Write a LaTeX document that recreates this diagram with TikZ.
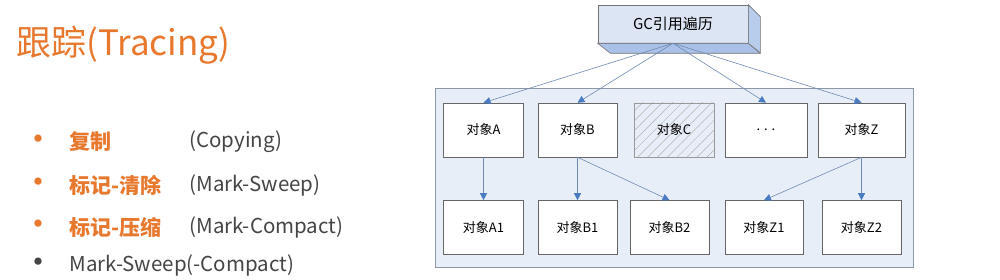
\documentclass[tikz,border=0pt]{standalone}
\usepackage{fontspec}
\setmainfont{Noto Sans CJK SC}
\usetikzlibrary{arrows.meta,patterns.meta,positioning}
\definecolor{traceorange}{HTML}{E8782E}
\definecolor{textgray}{HTML}{454545}
\definecolor{heapfill}{HTML}{E8EEF7}
\definecolor{heapline}{HTML}{8C98A6}
\definecolor{gcfront}{HTML}{DCE5F4}
\definecolor{gcside}{HTML}{A9C1E8}
\definecolor{refblue}{HTML}{4A7CC4}
\tikzset{
  objbox/.style={draw=black!60,fill=white,line width=0.6pt,minimum width=80pt,
    minimum height=54pt,inner sep=0pt,font=\fontsize{13}{15}\selectfont},
  refarrow/.style={draw=refblue!60!gray!90,line width=0.6pt,
    -{Triangle[width=7pt,length=7pt,color=refblue]}},
  bul/.style={anchor=west,font=\fontsize{26}{28}\selectfont\bfseries},
  cjkterm/.style={anchor=west,text=traceorange,font=\fontsize{21}{24}\selectfont\bfseries},
  engterm/.style={anchor=west,text=textgray,font=\fontsize{20.5}{24}\selectfont}
}

\begin{document}
\begin{tikzpicture}[x=1pt,y=-1pt]
\useasboundingbox[fill=white] (0,0) rectangle (1000,280);
% left text
\node[anchor=west,text=traceorange,font=\fontsize{35}{40}\selectfont] (title) at (13,45) {跟踪(Tracing)};
\node[bul,text=traceorange] (b1) at (22,142) {•};
\node[cjkterm] (t1) at (66,142) {复制};
\node[engterm] (e1) at (186,142) {(Copying)};
\node[bul,text=traceorange] (b2) at (22,185) {•};
\node[cjkterm] (t2) at (66,185) {标记-清除};
\node[engterm] (e2) at (186,185) {(Mark-Sweep)};
\node[bul,text=traceorange] (b3) at (22,227) {•};
\node[cjkterm] (t3) at (66,227) {标记-压缩};
\node[engterm] (e3) at (186,227) {(Mark-Compact)};
\node[bul,text=textgray] (b4) at (22,265) {•};
\node[engterm] (e4) at (66,265) {Mark-Sweep(-Compact)};
% heap
\draw[fill=heapfill,draw=heapline,line width=0.8pt] (435,88) rectangle (913,267);
\node[objbox] (objA) at (483.5,130) {对象A};
\node[objbox,minimum width=79pt] (objB) at (577.5,130) {对象B};
\node[objbox,draw=black!40,pattern={Lines[angle=45,distance=7pt,line width=0.5pt]},pattern color=black!30] (objC) at (674,130) {};
\node[font=\fontsize{13}{15}\selectfont] (labC) at (objC) {对象C};
\node[objbox,minimum width=82pt] (objD) at (766,130) {. . .};
\node[objbox,minimum width=87pt] (objZ) at (861.5,130) {对象Z};
\node[objbox] (objA1) at (483.5,227.5) {对象A1};
\node[objbox,minimum width=79pt] (objB1) at (577.5,227.5) {对象B1};
\node[objbox,minimum width=79pt] (objB2) at (669.5,227.5) {对象B2};
\node[objbox,minimum width=78pt] (objZ1) at (764,227.5) {对象Z1};
\node[objbox,minimum width=79pt] (objZ2) at (861.5,227.5) {对象Z2};
% GC box
\node[draw=black!55,fill=gcfront,line width=0.6pt,minimum width=150pt,minimum height=38pt,
  inner sep=0pt,font=\fontsize{15}{17}\selectfont] (gc) at (673,24) {GC引用遍历};
\draw[fill=gcside,draw=black!55,line width=0.6pt] (gc.south west) -- (gc.south east) -- ++(12,10) -- ++(-150,0) -- cycle;
\draw[fill=gcside!70!gcfront,draw=black!55,line width=0.6pt] (gc.north east) -- ++(12,12) -- ++(0,36) -- (gc.south east) -- cycle;
% references
\draw[refarrow] (gc.south) -- (objA.north);
\draw[refarrow] (gc.south) -- (objB.north);
\draw[refarrow] (gc.south) -- (objD.north);
\draw[refarrow] (gc.south) -- (objZ.north);
\draw[refarrow] (objA.south) -- (objA1.north);
\draw[refarrow] (objB.south) -- (objB1.north);
\draw[refarrow] (objB.south) -- (objB2.north);
\draw[refarrow] (objZ.south) -- (objZ1.north);
\draw[refarrow] (objZ.south) -- (objZ2.north);
\end{tikzpicture}
\end{document}
